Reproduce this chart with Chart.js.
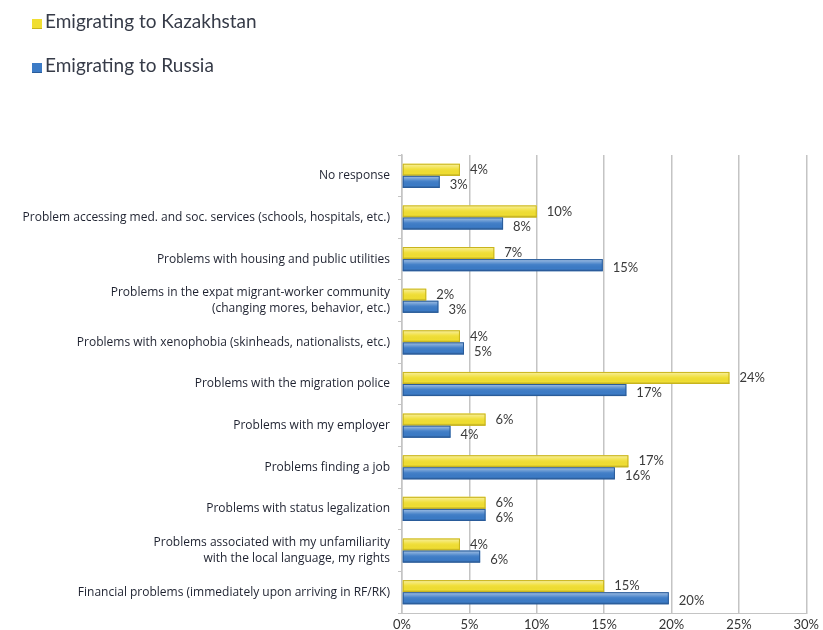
<!DOCTYPE html>
<html>
<head>
<meta charset="utf-8">
<script src="https://cdn.jsdelivr.net/npm/chart.js@4/dist/chart.umd.min.js"></script>
<style>
  body { margin: 0; background: #fff; font-family: Lato, "Open Sans", sans-serif; }
  #wrap { position: relative; width: 823px; height: 630px; }
  #legend { position: absolute; left: 32px; top: 8px; }
  .item { display: flex; align-items: center; height: 24px; margin-bottom: 20px; font-size: 19px; color: #363b48; }
  .sw { width: 10px; height: 9px; margin-right: 3px; margin-top: 8px; }
</style>
</head>
<body>
<div id="wrap">
  <canvas id="chart" width="823" height="630"></canvas>
  <div id="legend"></div>
</div>
<script>
var categories = [
  'No response',
  'Problem accessing med. and soc. services (schools, hospitals, etc.)',
  'Problems with housing and public utilities',
  ['Problems in the expat migrant-worker community', '(changing mores, behavior, etc.)'],
  'Problems with xenophobia (skinheads, nationalists, etc.)',
  'Problems with the migration police',
  'Problems with my employer',
  'Problems finding a job',
  'Problems with status legalization',
  ['Problems associated with my unfamiliarity', 'with the local language, my rights'],
  'Financial problems (immediately upon arriving in RF/RK)'
];
var kazakhstan = [4.3, 10.0, 6.85, 1.8, 4.3, 24.3, 6.2, 16.8, 6.2, 4.3, 15.0];
var russia     = [2.8, 7.5, 14.9, 2.7, 4.6, 16.65, 3.6, 15.8, 6.2, 5.8, 19.8];
var seriesNames = ['Emigrating to Kazakhstan', 'Emigrating to Russia'];
var xTicks = [0, 5, 10, 15, 20, 25, 30];

var colors = ['#F0DE32', '#3C7BC6'];
var edges  = ['#C8B41C', '#2A5C9A'];

// html legend
var legend = document.getElementById('legend');
seriesNames.forEach(function (name, i) {
  legend.innerHTML += '<div class="item"><span class="sw" style="background:' + colors[i] +
    ';border-bottom:1px solid ' + edges[i] + '"></span>' + name + '</div>';
});

/*
 * shade bars to get the glossy look of the original
 */
var shadePlugin = {
  id: 'shade',
  afterDatasetsDraw: function (chart) {
    var ctx = chart.ctx;
    chart.data.datasets.forEach(function (ds, di) {
      chart.getDatasetMeta(di).data.forEach(function (el) {
        var top = el.y - el.height / 2;
        var g = ctx.createLinearGradient(0, top, 0, top + el.height);
        g.addColorStop(0, 'rgba(255,255,255,0.55)');
        g.addColorStop(0.45, 'rgba(255,255,255,0.05)');
        g.addColorStop(0.8, 'rgba(0,0,0,0.0)');
        g.addColorStop(1, 'rgba(0,0,0,0.25)');
        ctx.save();
        ctx.fillStyle = g;
        ctx.fillRect(el.base, top, el.x - el.base, el.height);
        ctx.strokeStyle = edges[di];
        ctx.lineWidth = 1;
        ctx.strokeRect(el.base + 0.5, top + 0.5, el.x - el.base - 1, el.height - 1);
        ctx.restore();
      });
    });
  }
};

/*
 * rounded percent labels at bar ends
 */
var labelPlugin = {
  id: 'valueLabels',
  afterDatasetsDraw: function (chart) {
    var ctx = chart.ctx;
    ctx.save();
    ctx.font = '13px Lato, "Open Sans", sans-serif';
    ctx.fillStyle = '#3a3a3a';
    ctx.textAlign = 'left';
    ctx.textBaseline = 'middle';
    chart.data.datasets.forEach(function (ds, di) {
      chart.getDatasetMeta(di).data.forEach(function (el, i) {
        var dy = di === 0 ? 0 : 3;
        ctx.fillText(Math.round(ds.data[i]) + '%', el.x + 10, el.y + dy);
      });
    });
    ctx.restore();
  }
};

var chart = new Chart('chart', {
  type: 'bar',
  data: {
    labels: categories,
    datasets: [
      { label: seriesNames[0], data: kazakhstan, backgroundColor: colors[0] },
      { label: seriesNames[1], data: russia, backgroundColor: colors[1] }
    ]
  },
  options: {
    indexAxis: 'y',
    responsive: false,
    animation: false,
    layout: { padding: { top: 155, right: 0, left: 0, bottom: 0 } },
    datasets: { bar: { categoryPercentage: 0.58, barPercentage: 1.0 } },
    plugins: {
      legend: { display: false },
      tooltip: { enabled: false }
    },
    scales: {
      x: {
        min: 0,
        max: 30,
        afterBuildTicks: function (s) { s.ticks = xTicks.map(function (v) { return { value: v }; }); },
        afterFit: function (s) { s.height = 17; },
        ticks: {
          callback: function (v) { return v + '%'; },
          font: { family: 'Lato, "Open Sans", sans-serif', size: 13 },
          color: '#333',
          padding: 4
        },
        grid: { color: '#c4c4c4', lineWidth: 1.5, drawTicks: false },
        border: { color: '#c4c4c4' }
      },
      y: {
        afterFit: function (s) { s.width = 402; },
        ticks: {
          font: { family: '"Open Sans", Lato, sans-serif', size: 12, lineHeight: 1.35 },
          color: '#1e2230',
          padding: 8
        },
        grid: { drawOnChartArea: false, drawTicks: true, tickLength: 4, color: '#c4c4c4', offset: true },
        border: { color: '#c4c4c4', width: 1.5 }
      }
    }
  },
  plugins: [shadePlugin, labelPlugin]
});
</script>
</body>
</html>
